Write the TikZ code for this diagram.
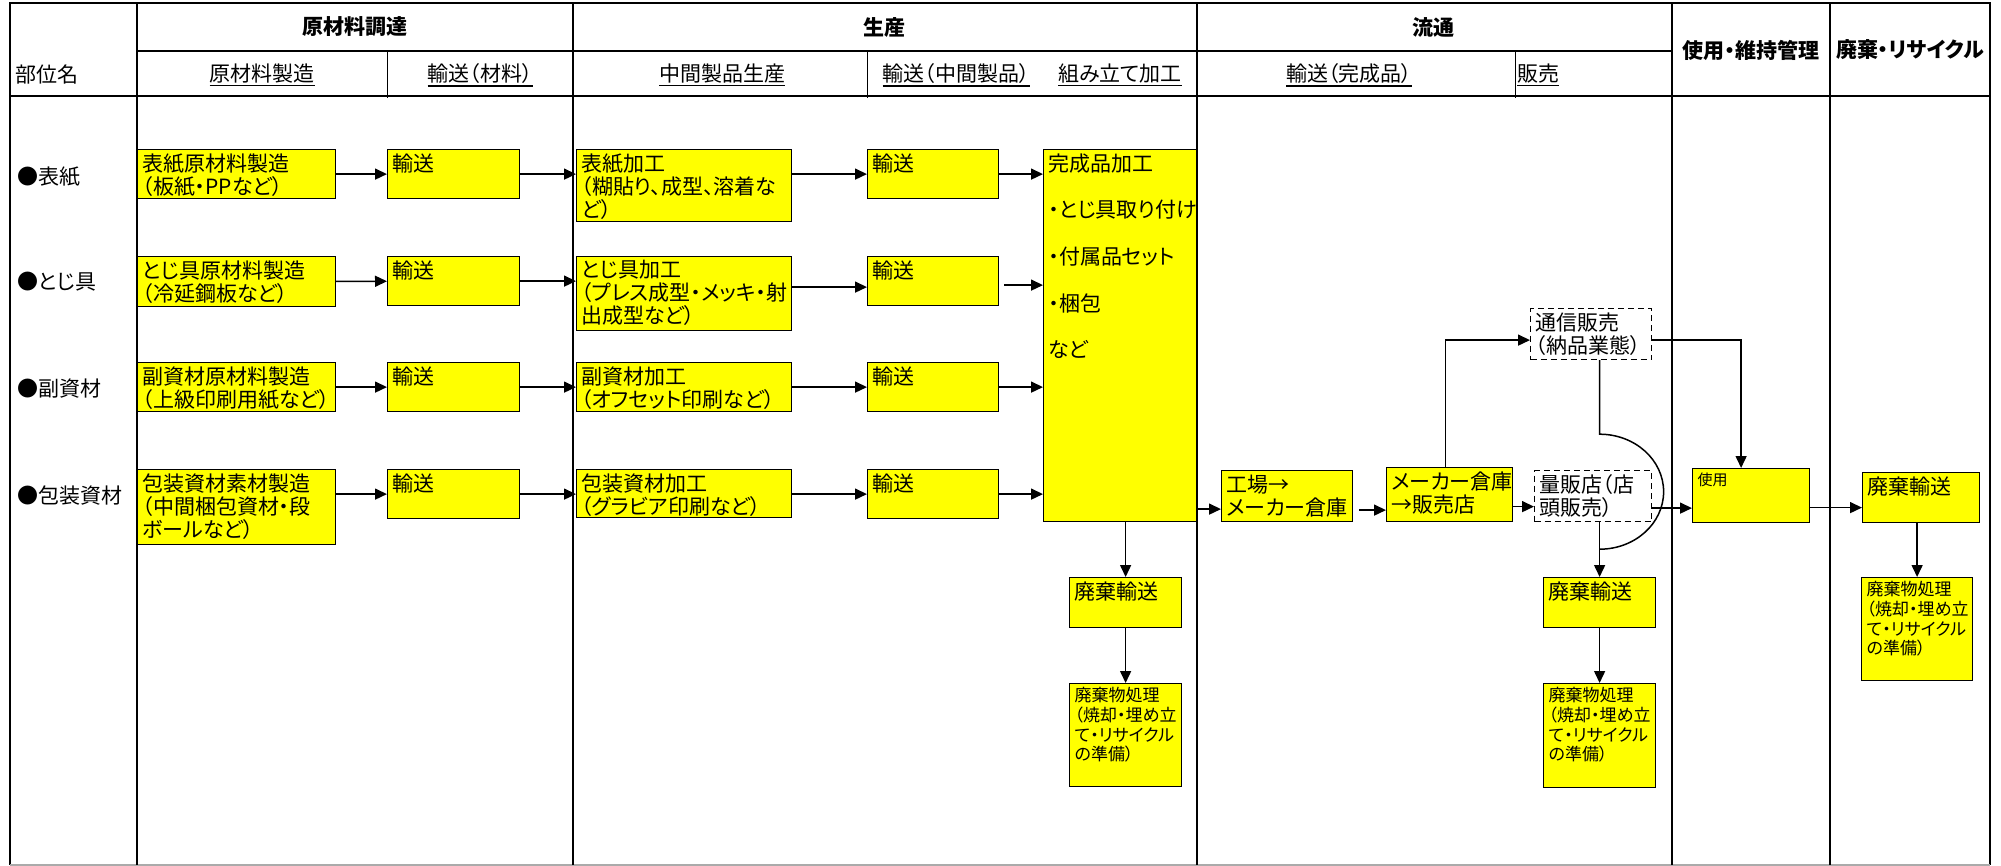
\documentclass[tikz,border=0pt]{standalone}
\usepackage{fontspec}
\setmainfont{Noto Sans CJK JP}[RawFeature=+palt]
\usetikzlibrary{arrows.meta, calc}
\definecolor{boxyellow}{RGB}{255,255,0}
\definecolor{cutgray}{RGB}{170,170,170}
\newlength{\pxu}\setlength{\pxu}{0.5pt}
\newcommand{\cellbox}[3]{\parbox[c][\dimexpr#2\pxu-4pt\relax][t]{\dimexpr#1\pxu-5pt\relax}{#3}}
\newsavebox{\ulbox}
\newcommand{\ulin}[1]{\sbox{\ulbox}{#1}\rlap{\rule[-2.6pt]{\wd\ulbox}{0.7pt}}\usebox{\ulbox}}

\begin{document}
\begin{tikzpicture}[x=0.5pt, y=-0.5pt,
  font=\fontsize{10.5pt}{11.5pt}\selectfont,
  proc/.style={draw, line width=0.6pt, fill=boxyellow, anchor=north west, inner xsep=2.5pt, inner ysep=2pt},
  shop/.style={proc, fill=white, dash pattern=on 3pt off 2pt},
  flow/.style={-{Triangle[length=6pt,width=5.5pt]}, line width=0.75pt},
  tableline/.style={line width=0.9pt},
  thinline/.style={line width=0.5pt},
  head/.style={font=\fontsize{10.5pt}{11.5pt}\selectfont\bfseries},
  rowname/.style={anchor=west, inner sep=1pt},
  tinytext/.style={font=\fontsize{8.5pt}{9.8pt}\selectfont}]
  \useasboundingbox (0,0) rectangle (2001,866);

  \draw[tableline] (10,865) -- (10,3) -- (1990,3) -- (1990,865);
  \draw[cutgray, line width=0.8pt] (10,865) -- (1990,865);
  \draw[line width=1.4pt] (137,3) -- (137,865);
  \foreach \xx in {573,1197,1672,1830}
    \draw[tableline] (\xx,3) -- (\xx,865);
  \draw[tableline] (137,51) -- (1672,51);
  \draw[tableline] (10,96) -- (1990,96);
  \foreach \xx in {387,867,1515}
    \draw[thinline] (\xx,51) -- (\xx,98);

  \node[head] (hraw) at (355,27) {原材料調達};
  \node[head] (hmake) at (884,27) {生産};
  \node[head] (hdist) at (1433,27) {流通};
  \node[head] (huse) at (1751,50) {使用・維持管理};
  \node[head] (hend) at (1910,50) {廃棄・リサイクル};
  \node[rowname, inner sep=0pt] (part) at (15,75) {部位名};
  \node (s1h) at (262,75) {\ulin{原材料製造}};
  \node (s2h) at (480,75) {\ulin{輸送（材料）}};
  \node (s3h) at (722,75) {\ulin{中間製品生産}};
  \node (s4h) at (956,75) {\ulin{輸送（中間製品）}};
  \node (s5h) at (1120,75) {\ulin{組み立て加工}};
  \node (s6h) at (1349,75) {\ulin{輸送（完成品）}};
  \node[anchor=west, inner sep=0pt] (s7h) at (1517,75) {\ulin{販売}};

  \node[rowname] (r1) at (15,177) {●表紙};
  \node[rowname] (r2) at (15,282) {●とじ具};
  \node[rowname] (r3) at (15,389) {●副資材};
  \node[rowname] (r4) at (15,496) {●包装資材};

  \node[proc] (a1) at (137,149) {\cellbox{198}{49}{表紙原材料製造\\（板紙・PPなど）}};
  \node[proc] (a2) at (137,256) {\cellbox{198}{50}{とじ具原材料製造\\（冷延鋼板など）}};
  \node[proc] (a3) at (137,362) {\cellbox{198}{49}{副資材原材料製造\\（上級印刷用紙など）}};
  \node[proc] (a4) at (137,469) {\cellbox{198}{75}{包装資材素材製造\\（中間梱包資材・段\\ボールなど）}};
  \node[proc] (b1) at (387,149) {\cellbox{132}{49}{輸送}};
  \node[proc] (b2) at (387,256) {\cellbox{132}{49}{輸送}};
  \node[proc] (b3) at (387,362) {\cellbox{132}{49}{輸送}};
  \node[proc] (b4) at (387,469) {\cellbox{132}{49}{輸送}};
  \node[proc] (c1) at (576,149) {\cellbox{215}{72}{表紙加工\\（糊貼り、成型、溶着な\\ど）}};
  \node[proc] (c2) at (576,256) {\cellbox{215}{74}{とじ具加工\\（プレス成型・メッキ・射\\出成型など）}};
  \node[proc] (c3) at (576,362) {\cellbox{215}{49}{副資材加工\\（オフセット印刷など）}};
  \node[proc] (c4) at (576,469) {\cellbox{215}{48}{包装資材加工\\（グラビア印刷など）}};
  \node[proc] (d1) at (867,149) {\cellbox{131}{49}{輸送}};
  \node[proc] (d2) at (867,256) {\cellbox{131}{49}{輸送}};
  \node[proc] (d3) at (867,362) {\cellbox{131}{49}{輸送}};
  \node[proc] (d4) at (867,469) {\cellbox{131}{49}{輸送}};
  \node[proc] (e) at (1043,149) {\cellbox{153}{372}{完成品加工\\[11.8pt]・とじ具取り付け\\[11.8pt]・付属品セット\\[11.8pt]・梱包\\[11.8pt]など}};
  \node[proc] (wt1) at (1069,577) {\cellbox{112}{50}{廃棄輸送}};
  \node[proc, tinytext] (wp1) at (1069,683) {\cellbox{112}{103}{廃棄物処理\\（焼却・埋め立\\て・リサイクル\\の準備）}};

  \node[proc] (f1) at (1221,470) {\cellbox{131}{51}{工場→\\メーカー倉庫}};
  \node[proc] (f2) at (1386,467) {\cellbox{126}{54}{メーカー倉庫\\→販売店}};
  \node[shop] (s1) at (1530,308) {\cellbox{121}{51}{通信販売\\（納品業態）}};
  \node[shop] (s2) at (1534,470) {\cellbox{117}{51}{量販店（店\\頭販売）}};
  \node[proc] (wt2) at (1543,577) {\cellbox{112}{50}{廃棄輸送}};
  \node[proc, tinytext] (wp2) at (1543,683) {\cellbox{112}{104}{廃棄物処理\\（焼却・埋め立\\て・リサイクル\\の準備）}};
  \node[proc, font=\fontsize{7.5pt}{9pt}\selectfont] (u) at (1692,468) {\cellbox{117}{54}{使用}};
  \node[proc] (wt3) at (1862,472) {\cellbox{117}{50}{廃棄輸送}};
  \node[proc, tinytext] (wp3) at (1861,577) {\cellbox{111}{103}{廃棄物処理\\（焼却・埋め立\\て・リサイクル\\の準備）}};

  \draw[flow] (a1) -- (b1);
  \draw[flow] (a2) -- (b2);
  \draw[flow] (a3) -- (b3);
  \draw[flow] (a4.east |- b4) -- (b4);
  \draw[flow] (b1) -- (b1 -| c1.west);
  \draw[flow] (b2) -- (b2 -| c2.west);
  \draw[flow] (b3) -- (b3 -| c3.west);
  \draw[flow] (b4) -- (b4 -| c4.west);
  \draw[flow] (c1.east |- d1) -- (d1);
  \draw[flow] ([yshift=-3pt]c2.east |- d2) -- ([yshift=-3pt]d2.west);
  \draw[flow] (c3.east |- d3) -- (d3);
  \draw[flow] (c4.east |- d4) -- (d4);
  \draw[flow] (d1) -- (d1 -| e.west);
  \draw[flow, shorten <=2.5pt] ([yshift=-2pt]d2.east) -- ([yshift=-2pt]d2.east -| e.west);
  \draw[flow] (d3) -- (d3 -| e.west);
  \draw[flow] (d4) -- (d4 -| e.west);
  \draw[flow] (e.south -| wt1.north) -- (wt1.north);
  \draw[flow] (wt1) -- (wp1);

  \draw[flow] ([yshift=-6.5pt]f1.west -| e.east) -- ([yshift=-6.5pt]f1.west);
  \draw[flow, shorten <=3pt] ([yshift=-7pt]f1.east) -- ([yshift=-7pt]f1.east -| f2.west);
  \draw[flow] ([yshift=-6pt]f2.east) -- ([yshift=-6pt]f2.east -| s2.west);
  \draw[flow] ([xshift=-2pt]f2.north) |- ([yshift=-3pt]s1.west);
  \draw[flow] ([yshift=-3pt]s1.east) -| ([xshift=-5pt]u.north);
  \draw[flow] ([yshift=-6pt]s2.east) -- ([yshift=-6pt]s2.east -| u.west);
  \draw[flow] ([yshift=-6pt]u.east) -- ([yshift=-6pt]u.east -| wt3.west);
  \draw[flow] (wt3.south -| wp3.north) -- (wp3.north);
  \draw[line width=0.75pt] (s1.south -| wt2.north) -- ++(0,74)
    arc[start angle=90, end angle=-90, x radius=32pt, y radius=28.75pt];
  \draw[flow] (s2.south -| wt2.north) -- (wt2.north);
  \draw[flow] (wt2) -- (wp2);
\end{tikzpicture}
\end{document}
